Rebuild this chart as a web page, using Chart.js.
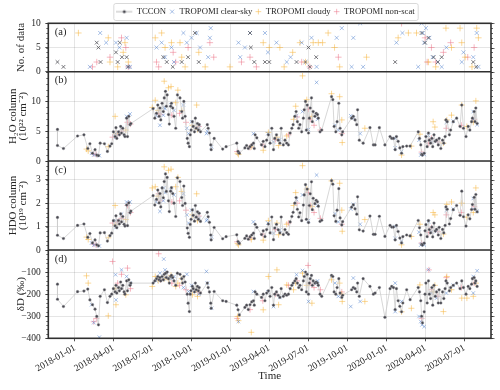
<!DOCTYPE html>
<html><head><meta charset="utf-8">
<script src="https://cdn.jsdelivr.net/npm/chart.js@4/dist/chart.umd.min.js"></script>
<style>html,body{margin:0;padding:0;background:#fff}#wrap{width:500px;height:390px}canvas{display:block}</style>
</head><body><div id="wrap"><canvas id="c" width="500" height="390" style="width:500px;height:390px"></canvas></div>
<script>
// ---------- DATA (x values are days since 2018-01-01) ----------
const tickLabels = ['2018-01-01','2018-04-01','2018-07-01','2018-10-01','2019-01-01','2019-04-01','2019-07-01','2019-10-01','2020-01-01','2020-04-01','2020-07-01'];

const tcconDay = [-41,-41,-27,6,21,30,35,41,47,51,
 55,59,69,76,82,86,90,94,96,98,
 102,104,107,109,112,115,117,121,123,126,
 129,131,183,187,191,194,197,199,201,204,
 207,209,212,214,216,219,221,224,226,229,
 232,236,240,246,250,252,255,258,263,265,
 268,270,272,275,277,280,282,284,287,289,
 291,294,310,312,315,318,319,326,346,354,
 379,382,385,398,402,406,410,414,418,420,
 422,426,437,441,445,449,453,457,461,465,
 468,472,476,480,483,488,492,496,500,504,
 508,511,515,518,521,524,527,531,535,537,
 540,542,544,547,549,551,554,556,558,562,
 565,568,570,574,578,601,604,607,611,614,
 618,621,625,627,648,652,656,660,662,666,
 675,691,699,703,713,726,738,742,746,750,
 753,757,761,765,768,777,785,804,807,810,
 812,814,818,820,822,825,828,830,833,836,
 838,841,844,847,851,853,857,861,864,867,
 869,872,877,880,886,894,902,906,910,916,
 921,925,929,931,935,937,939,942];
const tcconH2O = [5.3,2.6,2.1,4.2,4.4,2.1,2.9,1.3,1.9,1.0,
 0.9,3.0,2.9,1.6,2.5,2.9,4.9,4.1,5.6,3.8,
 4.9,4.4,5.8,4.7,5.5,4.4,4.1,7.2,4.1,7.5,
 6.1,6.3,8.8,7.2,8.0,9.4,7.5,8.9,6.9,9.7,
 8.3,10.6,11.7,9.2,11.1,7.8,6.2,9.2,9.7,8.9,
 7.5,5.5,11.1,10.6,8.3,7.2,10.0,7.5,3.8,3.0,
 2.4,4.4,5.2,6.6,5.8,4.9,7.2,5.5,6.3,5.2,
 6.1,4.9,6.1,5.5,4.7,2.7,1.9,3.8,2.0,2.4,
 3.0,1.6,1.3,2.2,2.6,2.1,2.4,2.7,3.0,2.1,
 4.4,3.9,2.7,3.3,2.4,3.5,4.4,3.0,5.5,1.9,
 3.8,4.4,3.5,3.0,5.5,2.7,3.5,3.0,2.7,4.7,
 5.5,6.1,7.5,8.3,6.6,5.5,6.1,4.9,7.2,8.6,
 10.0,5.2,9.4,4.7,7.2,8.9,10.6,6.6,8.3,7.5,
 8.0,7.8,7.2,4.9,5.2,10.8,10.3,5.8,4.9,6.6,
 9.7,5.5,4.4,4.9,7.2,7.5,6.9,6.1,8.6,3.5,
 3.0,5.6,2.7,2.7,5.6,2.7,4.1,3.8,3.8,1.9,
 4.1,3.3,2.2,1.3,2.4,2.5,2.5,4.9,3.8,2.7,
 1.1,1.0,1.3,3.3,4.1,2.4,4.7,3.5,3.0,3.8,
 2.4,4.4,3.3,3.5,2.7,3.8,2.1,3.5,3.0,4.1,
 6.9,6.6,4.4,5.2,6.6,7.2,5.8,9.4,5.5,4.1,
 5.8,5.2,6.6,7.2,8.3,6.6,8.9,6.3];
const tcconHDO = [1.39,0.63,0.49,1.05,1.11,0.54,0.70,0.30,0.43,0.22,
 0.18,0.73,0.74,0.38,0.61,0.72,1.25,1.03,1.46,0.95,
 1.26,1.11,1.54,1.20,1.43,1.10,1.02,1.92,1.04,2.01,
 1.59,1.66,2.32,1.92,2.16,2.56,2.01,2.41,1.84,2.65,
 2.23,2.92,3.25,2.50,3.10,2.10,1.64,2.51,2.66,2.41,
 2.00,1.43,3.08,2.92,2.24,1.90,2.73,1.99,0.94,0.71,
 0.54,1.09,1.31,1.71,1.48,1.23,1.90,1.40,1.63,1.31,
 1.57,1.22,1.61,1.42,1.18,0.64,0.43,0.96,0.48,0.57,
 0.65,0.36,0.28,0.50,0.60,0.46,0.56,0.64,0.72,0.49,
 1.10,0.97,0.66,0.82,0.57,0.87,1.11,0.73,1.41,0.44,
 0.94,1.10,0.86,0.73,1.41,0.66,0.87,0.74,0.67,1.20,
 1.43,1.61,2.00,2.24,1.74,1.41,1.59,1.25,1.92,2.35,
 2.79,1.31,2.60,1.17,1.90,2.40,2.91,1.72,2.21,1.98,
 2.12,2.06,1.87,1.22,1.27,2.96,2.81,1.46,1.22,1.70,
 2.62,1.37,1.07,1.21,1.83,1.93,1.76,1.53,2.27,0.86,
 0.81,1.45,0.67,0.67,1.44,0.58,1.05,0.98,0.98,0.43,
 1.05,0.79,0.51,0.30,0.57,0.64,0.60,1.26,0.95,0.64,
 0.24,0.21,0.29,0.82,1.08,0.57,1.25,0.87,0.73,0.98,
 0.56,1.15,0.81,0.88,0.64,0.97,0.49,0.88,0.73,1.05,
 1.84,1.74,1.11,1.34,1.72,1.90,1.48,2.51,1.42,1.02,
 1.50,1.33,1.73,1.94,2.25,1.74,2.37,1.63];
const tcconDD = [-155,-223,-256,-189,-186,-177,-226,-248,-268,-301,
 -339,-210,-180,-238,-210,-200,-175,-190,-160,-195,
 -170,-185,-145,-175,-160,-190,-200,-140,-185,-135,
 -160,-150,-150,-140,-130,-120,-135,-125,-140,-120,
 -135,-110,-105,-125,-100,-130,-150,-120,-115,-125,
 -140,-160,-105,-110,-130,-150,-120,-145,-200,-241,
 -279,-200,-185,-165,-175,-190,-150,-180,-165,-185,
 -170,-195,-150,-170,-190,-241,-264,-188,-230,-233,
 -250,-271,-294,-260,-250,-270,-248,-235,-230,-250,
 -190,-200,-215,-200,-230,-195,-185,-210,-170,-250,
 -200,-190,-205,-215,-175,-210,-200,-205,-200,-175,
 -160,-150,-140,-130,-150,-170,-160,-180,-140,-120,
 -100,-190,-110,-200,-150,-130,-115,-160,-140,-150,
 -145,-150,-160,-200,-210,-115,-120,-190,-200,-170,
 -130,-195,-215,-205,-180,-170,-175,-190,-150,-210,
 -130,-165,-200,-195,-170,-305,-175,-165,-170,-270,
 -175,-230,-255,-280,-240,-180,-225,-170,-190,-230,
 -300,-330,-280,-200,-150,-240,-140,-200,-220,-170,
 -250,-160,-210,-190,-240,-180,-240,-190,-220,-175,
 -140,-150,-185,-170,-160,-150,-175,-140,-170,-200,
 -165,-175,-155,-130,-125,-150,-140,-165];

const clearDay = [39,44,57,95,96,109,121,129,190,199,207,211,225,232,254,262,266,273,290,308,310,320,383,418,452,465,480,519,533,547,566,568,609,617,646,652,668,750,750,765,806,810,813,818,828,835,847,870,886,933,942,933,208];
const clearH2O = [1.3,1.0,0.9,4.6,4.0,5.5,7.5,7.9,7.6,6.0,7.7,8.8,9.4,8.5,9.4,5.5,4.6,6.6,5.5,4.6,5.0,2.4,1.4,4.6,4.6,3.2,3.6,7.6,8.3,5.3,13.2,7.0,6.0,5.2,7.6,7.2,4.6,3.8,2.2,1.6,3.5,1.0,1.2,1.1,4.3,3.2,3.3,6.5,6.7,8.3,6.1,7.0,9.0];
const clearHDO = [0.30,0.21,0.17,1.25,0.96,1.53,2.05,2.05,2.05,1.65,2.10,2.45,2.55,2.35,2.40,1.50,1.15,1.70,1.35,1.25,1.30,0.56,0.30,1.20,1.15,0.72,0.85,2.15,2.35,1.25,3.20,1.90,1.55,1.20,1.75,1.95,1.10,1.00,0.50,0.38,0.76,0.21,0.25,0.22,1.20,0.78,0.79,1.70,1.75,2.20,1.65,1.75,2.65];
const clearDD = [-248,-329,-395,-112,-226,-90,-120,-150,-140,-105,-130,-90,-130,-120,-170,-110,-188,-160,-200,-97,-150,-264,-324,-188,-190,-256,-215,-112,-93,-233,-150,-140,-150,-210,-256,-127,-233,-150,-279,-233,-301,-324,-339,-347,-89,-195,-218,-195,-160,-120,-94,-195,-41];

const cloudyDay = [27,31,78,94,96,119,181,188,195,209,219,225,236,241,250,275,285,287,381,383,413,441,453,473,477,496,512,517,533,543,555,601,620,625,626,679,765,788,808,839,843,863,871,882,906,918,933,939];
const cloudyH2O = [2.0,1.7,2.4,7.5,4.6,5.2,9.0,10.2,8.5,13.4,12.3,12.5,9.8,11.9,8.5,6.0,9.4,5.3,1.3,1.1,2.4,1.8,4.8,4.0,2.6,4.2,7.0,9.2,14.3,10.3,7.5,11.3,10.8,6.9,3.1,5.5,1.0,2.5,4.5,6.6,5.7,3.0,6.9,7.7,9.4,5.8,6.5,10.1];
const cloudyHDO = [0.55,0.45,0.52,1.90,1.08,1.30,2.65,2.70,2.30,3.55,3.40,3.45,2.70,3.10,2.50,1.50,2.40,1.25,0.28,0.22,0.45,0.42,1.25,1.15,0.65,1.10,1.90,2.45,3.60,2.60,1.85,2.95,2.85,1.70,0.80,1.30,0.22,0.58,1.10,1.60,1.50,0.68,1.95,2.05,2.00,1.40,1.60,2.65];
const cloudyDD = [-117,-150,-298,-175,-248,-203,-165,-120,-140,-130,-135,-115,-165,-150,-130,-203,-180,-210,-301,-320,-373,-271,-120,-90,-248,-158,-180,-150,-105,-160,-241,-135,-150,-200,-233,-233,-280,-264,-158,-190,-160,-279,-120,-180,-218,-218,-210,-150];

const nonscatDay = [44,50,88,100,109,123,130,196,200,227,245,260,290,380,410,440,470,500,520,546,551,560,575,625,812,829,835,850,870,905,935];
const nonscatH2O = [1.2,1.1,4.0,4.5,5.0,6.5,6.2,8.0,7.8,7.7,8.0,6.5,5.8,1.6,2.3,2.8,3.6,4.4,7.4,8.7,7.0,6.0,5.2,4.6,1.5,3.0,3.8,3.2,5.5,6.0,7.0];
const nonscatHDO = [0.25,0.22,1.15,1.20,1.35,1.90,1.60,2.40,2.10,2.05,2.10,1.70,1.45,0.35,0.52,0.68,0.88,1.15,2.00,2.45,1.90,1.60,1.35,1.10,0.30,0.75,0.95,0.78,1.50,1.60,1.85];
const nonscatDD = [-325,-310,-52,-150,-110,-82,-175,-17,-135,-150,-160,-180,-190,-310,-270,-230,-200,-160,-140,-70,-150,-170,-180,-190,-310,-90,-180,-210,-125,-170,-150];

// number of data per day (panel a)
const tcconCntDay = [-41,-27,51,55,60,96,100,105,110,121,125,207,215,229,250,265,281,290,410,412,420,445,455,519,540,547,550,565,750,812,820,828,840,850,859,933,940];
const tcconCnt = [2,1,6,5,2,4,2,6,3,3,1,3,2,1,2,3,8,2,8,5,2,2,2,2,2,5,1,3,2,8,6,7,3,2,3,2,1];
const clearCntDay = [35,59,73,96,104,121,123,129,191,203,211,226,232,254,262,273,285,293,312,316,318,383,387,398,410,445,452,472,496,505,531,554,566,613,625,648,652,668,675,753,767,804,812,815,818,822,830,838,850,859,870,906,910,933,941,945];
const clearCnt = [1,8,6,6,5,7,1,1,5,6,3,5,2,8,6,7,8,5,3,7,9,6,3,5,8,8,4,6,2,3,6,7,1,7,9,1,7,10,1,6,8,1,10,8,6,9,7,3,2,1,5,2,4,3,8,1];
const cloudyCntDay = [8,78,82,100,113,117,125,188,203,211,226,246,250,258,290,305,363,441,455,480,490,510,527,540,558,570,580,593,608,620,683,757,781,800,828,845,869,882,902,906,914,930,941,945];
const cloudyCnt = [8,7,2,1,4,6,2,7,8,5,6,6,3,1,4,1,1,6,5,5,1,4,6,2,6,6,6,8,5,1,3,7,8,8,2,1,9,5,9,6,3,1,9,7];
const nonscatCntDay = [41,51,82,109,119,125,191,196,230,236,265,316,325,390,410,425,531,550,617,765,820,825,835,845,863,880,920,935];
const nonscatCnt = [1,2,3,7,5,1,2,1,4,2,5,6,3,2,3,1,2,1,3,10,7,2,5,2,4,6,3,5];

// ---------- STYLE / LAYOUT ----------
const FONT = "'Liberation Serif','Times New Roman',serif";
const INK = '#262626';
const GRID = 'rgba(0,0,0,0.13)';
const COL = { tcLine:'#cdcdcd', tcDot:'#47474f', tcEdge:'#9a9aa0', tcCnt:'#55555c',
  clear:'rgba(95,140,210,0.7)', cloudy:'rgba(245,180,60,0.65)', nonscat:'rgba(236,115,135,0.65)' };
Chart.defaults.font.family = FONT;

const DAY0 = Date.UTC(2018, 0, 1);
const tickDays = tickLabels.map(s => (Date.parse(s + 'T00:00:00Z') - DAY0) / 86400000);
const pts = (xs, ys) => xs.map((x, i) => ({x, y: ys[i]}));

const tcconLegendMark = (() => {
  const c = document.createElement('canvas'); c.width = 26; c.height = 6;
  const g = c.getContext('2d');
  g.strokeStyle = '#b8b8b8'; g.lineWidth = 1; g.beginPath(); g.moveTo(0, 3); g.lineTo(16, 3); g.stroke();
  g.fillStyle = COL.tcDot; g.beginPath(); g.arc(8, 3, 1.5, 0, Math.PI * 2); g.fill();
  return c;
})();

const panels = [
  {id:'ya', tag:'(a)', min:0, max:10, ticks:[0,5,10], minor:1, sw:48.4, w:4, title:'No. of data', tp:16},
  {id:'yb', tag:'(b)', min:0, max:15, ticks:[0,5,10], minor:1, sw:89.3, w:3, title:['H\u2082O column','(10\u00b2\u00b2 cm\u207b\u00b2)'], tp:8},
  {id:'yc', tag:'(c)', min:0, max:3.8, ticks:[0,1,2,3], minor:0.2, sw:89, w:2, title:['HDO column','(10\u00b9\u2079 cm\u207b\u00b2)'], tp:8},
  {id:'yd', tag:'(d)', min:-400, max:0, ticks:[-400,-300,-200,-100], minor:20, sw:88.3, w:1, title:'\u03b4D (\u2030)', tp:16}
];

function yAxis(p) {
  return {
    type:'linear', position:'left', stack:'panels', stackWeight:p.sw, weight:p.w,
    min:p.min, max:p.max,
    afterBuildTicks: s => { s.ticks = p.ticks.map(v => ({value:v})); },
    afterFit: s => { s.width = 48.3; },
    border:{display:false},
    grid:{color:GRID, lineWidth:0.8, tickLength:3, tickColor:INK, tickWidth:0.8},
    ticks:{font:{family:FONT, size:9.5}, color:INK, padding:4.5,
      callback: v => v < 0 ? '\u2212' + (-v) : String(v)},
    title:{display:true, text:p.title, color:INK, font:{family:FONT, size:11, lineHeight:0.9},
      padding:{top:p.tp, bottom:0}}
  };
}

const scales = {
  x: {
    type:'linear', min:-62.5, max:974.5,
    afterBuildTicks: s => { s.ticks = tickDays.map(v => ({value:v})); },
    afterFit: s => { s.height = 51.7; },
    border:{display:false},
    grid:{color:GRID, lineWidth:0.8, tickLength:3, tickColor:INK, tickWidth:0.8},
    ticks:{autoSkip:false, minRotation:30, maxRotation:30, padding:1, font:{family:FONT, size:9.5}, color:INK,
      callback:(v, i) => tickLabels[i]},
    title:{display:true, text:'Time', color:INK, font:{family:FONT, size:11}, padding:{top:0, bottom:7.7}}
  }
};
panels.forEach(p => { scales[p.id] = yAxis(p); });

function tcconSet(id, ys, legend) {
  return {label:'TCCON', inLegend:legend, legendImage:tcconLegendMark, yAxisID:id, xAxisID:'x',
    data:pts(tcconDay, ys), showLine:true, borderColor:COL.tcLine, borderWidth:0.8,
    pointStyle:'circle', pointRadius:1.35, pointBackgroundColor:COL.tcDot, pointBorderColor:COL.tcEdge, pointBorderWidth:0.4};
}
function markSet(label, id, xs, ys, style, color, r, legend) {
  return {label, inLegend:legend, yAxisID:id, xAxisID:'x', data:pts(xs, ys), showLine:false,
    pointStyle:style, pointRadius:r, borderColor:color, backgroundColor:color,
    pointBorderColor:color, pointBackgroundColor:color, borderWidth:0.8, pointBorderWidth:0.8};
}

const datasets = [
  tcconSet('yb', tcconH2O, true),
  tcconSet('yc', tcconHDO, false),
  tcconSet('yd', tcconDD, false),
  markSet('TCCON', 'ya', tcconCntDay, tcconCnt, 'crossRot', COL.tcCnt, 2.6, false),
  markSet('TROPOMI clear-sky', 'yb', clearDay, clearH2O, 'crossRot', COL.clear, 2.5, true),
  markSet('TROPOMI cloudy', 'yb', cloudyDay, cloudyH2O, 'cross', COL.cloudy, 3, true),
  markSet('TROPOMI non-scat', 'yb', nonscatDay, nonscatH2O, 'cross', COL.nonscat, 3, true),
  markSet('TROPOMI clear-sky', 'yc', clearDay, clearHDO, 'crossRot', COL.clear, 2.5, false),
  markSet('TROPOMI cloudy', 'yc', cloudyDay, cloudyHDO, 'cross', COL.cloudy, 3, false),
  markSet('TROPOMI non-scat', 'yc', nonscatDay, nonscatHDO, 'cross', COL.nonscat, 3, false),
  markSet('TROPOMI clear-sky', 'yd', clearDay, clearDD, 'crossRot', COL.clear, 2.5, false),
  markSet('TROPOMI cloudy', 'yd', cloudyDay, cloudyDD, 'cross', COL.cloudy, 3, false),
  markSet('TROPOMI non-scat', 'yd', nonscatDay, nonscatDD, 'cross', COL.nonscat, 3, false),
  markSet('TROPOMI clear-sky', 'ya', clearCntDay, clearCnt, 'crossRot', COL.clear, 2.8, false),
  markSet('TROPOMI cloudy', 'ya', cloudyCntDay, cloudyCnt, 'cross', COL.cloudy, 3.2, false),
  markSet('TROPOMI non-scat', 'ya', nonscatCntDay, nonscatCnt, 'cross', COL.nonscat, 3.2, false)
];

const LEG_DX = 25, LEG_DY = 4.3, LEG_H = 23.3;
const legendFix = {
  id:'legendFix',
  afterInit(chart) {
    const lg = chart.legend; if (!lg) return;
    const fit = lg.fit.bind(lg);
    lg.fit = function() { fit(); this.height = LEG_H; };
    const draw = lg.draw.bind(lg);
    lg.draw = function() { const c = this.ctx; c.save(); c.translate(LEG_DX, LEG_DY); draw(); c.restore(); };
  }
};

const decor = {
  id:'decor',
  afterDraw(chart) {
    const {ctx, chartArea:ca} = chart;
    const sc = chart.scales;
    ctx.save();
    ctx.strokeStyle = INK; ctx.lineWidth = 0.7;
    ctx.beginPath();
    panels.forEach(p => {
      const s = sc[p.id];
      const n = Math.round((p.max - p.min) / p.minor);
      for (let k = 0; k <= n; k++) {
        const v = p.min + k * p.minor;
        const y = Math.round(s.getPixelForValue(v)) + 0.5;
        ctx.moveTo(ca.left - 2, y); ctx.lineTo(ca.left, y);
        ctx.moveTo(ca.right, y); ctx.lineTo(ca.right + 2, y);
      }
      p.ticks.forEach(v => { const y = Math.round(s.getPixelForValue(v)) + 0.5; ctx.moveTo(ca.right, y); ctx.lineTo(ca.right + 3.5, y); });
    });
    ctx.stroke();
    ctx.strokeStyle = '#303030'; ctx.lineWidth = 1.6;
    ctx.strokeRect(ca.left, ca.top, ca.right - ca.left, ca.bottom - ca.top);
    ctx.beginPath();
    panels.slice(1).forEach(p => { const y = sc[p.id].top; ctx.moveTo(ca.left, y); ctx.lineTo(ca.right, y); });
    ctx.stroke();
    ctx.fillStyle = INK; ctx.font = '10.5px ' + FONT; ctx.textBaseline = 'middle'; ctx.textAlign = 'left';
    panels.forEach(p => ctx.fillText(p.tag, ca.left + 6.5, sc[p.id].top + 9));
    const hb = chart.legend && chart.legend.legendHitBoxes;
    if (hb && hb.length) {
      const l = Math.min(...hb.map(h => h.left)) + LEG_DX - 13;
      const r = Math.max(...hb.map(h => h.left + h.width)) + LEG_DX + 3;
      ctx.strokeStyle = '#cfcfcf'; ctx.lineWidth = 0.8;
      ctx.beginPath();
      if (ctx.roundRect) ctx.roundRect(l + 0.5, 3.5, r - l, 17, 2); else ctx.rect(l + 0.5, 3.5, r - l, 17);
      ctx.stroke();
    }
    ctx.restore();
  }
};

new Chart(document.getElementById('c'), {
  type:'scatter',
  data:{datasets},
  options:{
    responsive:false, animation:false, events:[], devicePixelRatio:1,
    layout:{padding:{top:0, right:9, bottom:0, left:0}},
    scales,
    plugins:{
      tooltip:{enabled:false},
      legend:{display:true, position:'top', align:'center',
        labels:{font:{family:FONT, size:8.7}, color:INK, usePointStyle:true, boxWidth:6, boxHeight:4, padding:3,
          filter:(item, data) => !!data.datasets[item.datasetIndex].inLegend,
          generateLabels: chart => Chart.defaults.plugins.legend.labels.generateLabels(chart).map(it => {
            const ds = chart.data.datasets[it.datasetIndex];
            if (ds.legendImage) it.pointStyle = ds.legendImage;
            return it;
          })
        }
      }
    }
  },
  plugins:[legendFix, decor]
});
</script>
</body></html>
